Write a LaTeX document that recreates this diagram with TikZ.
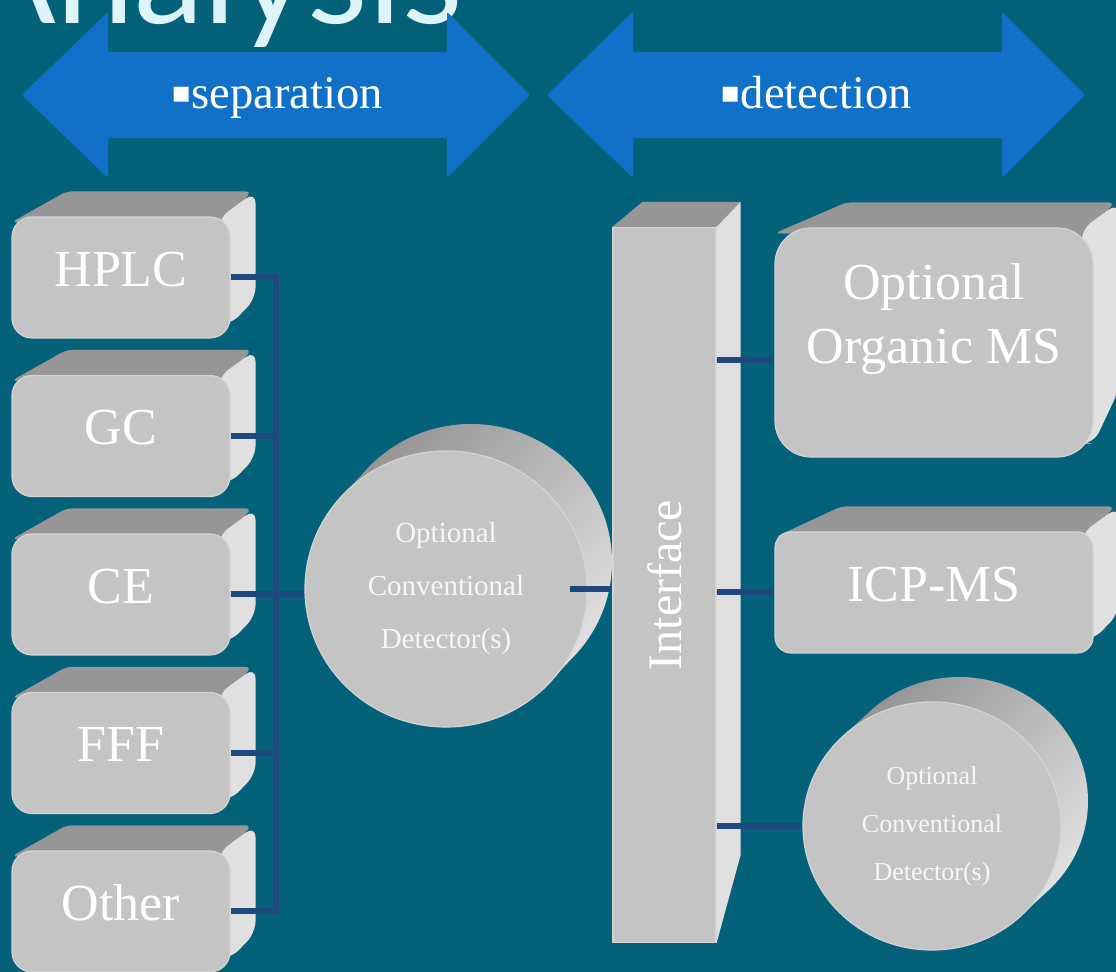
\documentclass[tikz,border=0pt]{standalone}
\usepackage{fontspec}
\usepackage{graphicx}
\setmainfont{Liberation Serif}
\newfontfamily\headfont{Lato}
\newfontfamily\symbolfont{DejaVu Sans}
\usetikzlibrary{positioning,calc,backgrounds,shapes.geometric}

\definecolor{slide}{RGB}{4,97,122}
\definecolor{banner}{RGB}{17,112,200}
\definecolor{heading}{RGB}{221,245,249}
\definecolor{face}{RGB}{196,196,196}
\definecolor{rim}{RGB}{212,212,212}
\definecolor{roof}{RGB}{150,150,150}
\definecolor{flank}{RGB}{224,224,224}
\definecolor{wire}{RGB}{31,73,125}

\newcommand{\sqbullet}{\raisebox{3pt}{\symbolfont\fontsize{15}{15}\selectfont ▪}}

% top and right faces behind a box node: #1 node, #2 shift of back left corner,
% #3 depth to the right, #4 rise of the back lower corner
\newcommand{\boxfaces}[4]{%
  \begin{scope}[on background layer]
    \fill[roof, rounded corners=3pt] ($(#1.north west)+(0,6)$) -- ($(#1.north west)+(#2,-25)$)
      -- ($(#1.north east)+(#3-4,-25)$) -- ($(#1.north east)+(-10,10)$) -- cycle;
    \fill[flank, rounded corners=6pt] ($(#1.north east)+(-12,2)$) -- ($(#1.north east)+(#3,-25)$)
      -- ($(#1.south east)+(#3,-#4)$) -- ($(#1.south east)+(0,-14)$) -- ($(#1.south east)+(-14,-14)$) -- cycle;
  \end{scope}}

% body of a drum behind its front disc: #1 node, (#2,#3) shift of the back disc, #4/#5 radii
\newcommand{\drumside}[5]{%
  \begin{scope}[on background layer]
    \shade[top color=roof, bottom color=flank, shading angle=45]
      ($(#1.center)+(#2,#3)$) ellipse [x radius=#4*0.5pt, y radius=#5*0.5pt]
      ($(#1.center)+(0.707*#4,0.707*#5)$) -- ($(#1.center)+(0.707*#4+#2,0.707*#5+#3)$)
      -- ($(#1.center)+(-0.707*#4+#2,-0.707*#5+#3)$) -- ($(#1.center)+(-0.707*#4,-0.707*#5)$) -- cycle;
  \end{scope}}

\begin{document}
\begin{tikzpicture}[x=0.5pt, y=-0.5pt,
  unit/.style={draw=rim, line width=0.6pt, fill=face, rounded corners=10pt, text=white, inner sep=0pt,
    minimum width=109pt, minimum height=60.5pt, font=\fontsize{26}{30}\selectfont,
    text height=18pt, text depth=9pt},
  drum/.style={ellipse, draw=rim, line width=0.6pt, fill=face, text=white!94!gray, align=center, inner sep=0pt},
  rail/.style={draw=rim, line width=0.6pt, fill=face, text=white, inner sep=0pt},
  link/.style={draw=wire, line width=3pt},
  band/.style={fill=banner, rounded corners=1pt},
  tag/.style={anchor=base, text=white, font=\fontsize{23.3}{28}\selectfont}
]
\begin{scope}[on background layer]
  \fill[slide] (0,0) rectangle (1116,972);
\end{scope}
\useasboundingbox (0,0) rectangle (1116,972);

\node[anchor=base east, inner sep=0pt, text=heading, font=\headfont\fontsize{70}{70}\selectfont] (title) at (463,24) {Analysis};

% the two double arrows
\foreach \l/\r in {22/530, 547/1085}
  \fill[band] (\l,95) -- (\l+86,12) -- (\l+86,52) -- (\r-83,52) -- (\r-83,12) -- (\r,95)
    -- (\r-83,178) -- (\r-83,138) -- (\l+86,138) -- (\l+86,178) -- cycle;
\node[tag] (sep) at (277,109) {\sqbullet separation};
\node[tag] (det) at (816,109) {\sqbullet detection};

% separation techniques
\foreach \name/\txt [count=\i from 0] in {hplc/HPLC, gc/GC, ce/CE, fff/FFF, other/Other}
  \node[unit] (\name) at (121,277.5+158.5*\i) {\txt};
\foreach \name in {hplc,gc,ce,fff,other}
  \boxfaces{\name}{55}{25}{40};

\node[drum, minimum width=141pt, minimum height=138pt, font=\fontsize{14.5}{26.5}\selectfont]
  (det1) at (446,589) {Optional\\Conventional\\Detector(s)};
\drumside{det1}{25}{-27}{141}{138}

% interface column
\node[rail, minimum width=51.5pt, minimum height=357.5pt, font=\fontsize{24}{28}\selectfont]
  (iface) at (664.5,585) {\rotatebox{90}{Interface}};
\begin{scope}[on background layer]
  \fill[roof] (iface.north west) -- ++(30,-25) -- ($(iface.north east)+(24,-25)$) -- (iface.north east) -- cycle;
  \fill[flank] (iface.north east) -- ++(24,-25) -- ($(iface.south east)+(24,-88)$) -- (iface.south east) -- cycle;
\end{scope}

% detectors
\node[unit, minimum width=159pt, minimum height=114.5pt, rounded corners=18pt, align=center,
  font=\fontsize{26}{32}\selectfont, text height=40pt, text depth=18.5pt] (organic) at (934,342.5) {Optional\\Organic MS};
\boxfaces{organic}{72}{25}{67}
\node[unit, minimum width=159pt, rounded corners=8pt] (icp) at (934,592.5) {ICP-MS};
\boxfaces{icp}{67}{25}{40}
\node[drum, minimum width=129pt, minimum height=124pt, font=\fontsize{13}{24}\selectfont]
  (det2) at (932,826) {Optional\\Conventional\\Detector(s)};
\drumside{det2}{27}{-25}{129}{124}

% connections
\draw[link] (hplc.east) -- ++(45,0) |- (other.east);
\foreach \name in {gc,ce,fff}
  \draw[link] (\name.east) -- ++(45,0);
\draw[link] (ce.east) -- (ce.east -| det1.west);
\draw[link] ([xshift=-9pt]det1.east) -- (det1.east -| iface.west);
\coordinate (msin) at ($(organic.west)+(0,18)$);
\draw[link] (iface.east |- msin) -- (msin);
\draw[link] (iface.east |- icp.west) -- (icp.west);
\draw[link] (iface.east |- det2.west) -- (det2.west);
\end{tikzpicture}
\end{document}
